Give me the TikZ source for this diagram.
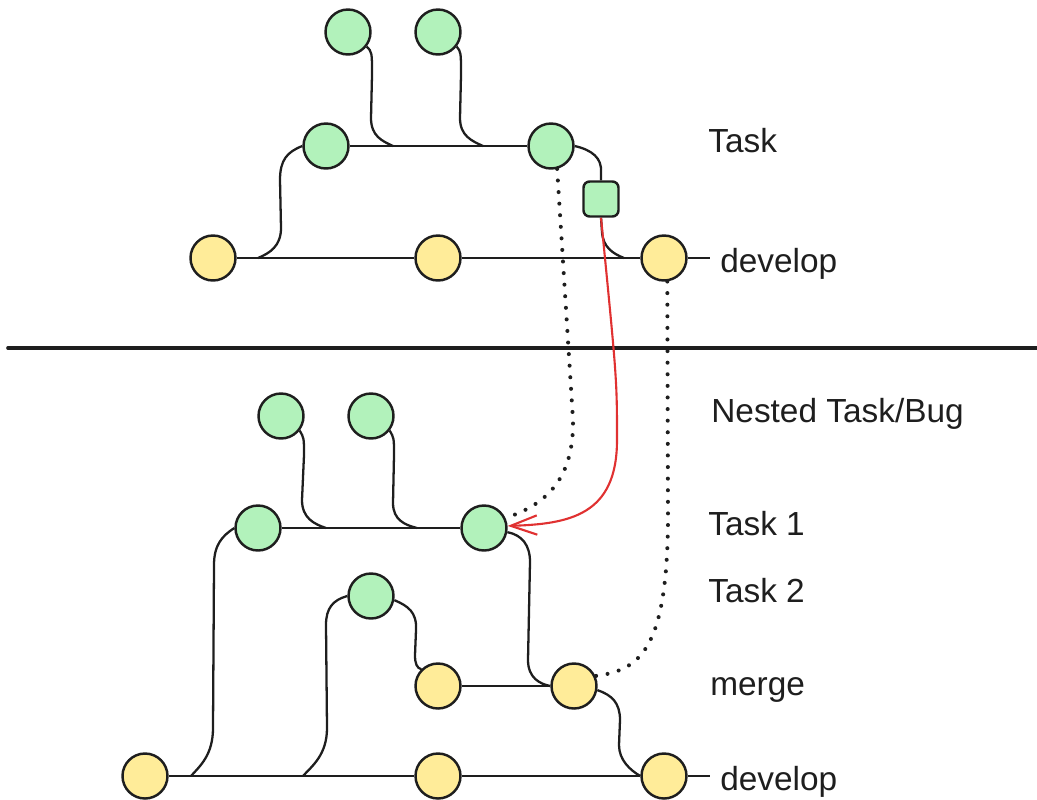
\documentclass[tikz,border=0pt]{standalone}
\usepackage{fontspec}
\setmainfont{Liberation Sans}
\usetikzlibrary{arrows.meta,positioning}

\definecolor{taskgreen}{HTML}{B2F2BB}
\definecolor{devyellow}{HTML}{FFEC99}
\definecolor{ink}{HTML}{1E1E1E}
\definecolor{pickred}{HTML}{E03131}

\begin{document}
\begin{tikzpicture}[
        x=0.02cm, y=-0.02cm,
        commit/.style={circle, draw=ink, line width=1.4pt, minimum size=0.9cm, inner sep=0pt},
        task/.style={commit, fill=taskgreen},
        dev/.style={commit, fill=devyellow},
        squash/.style={rectangle, rounded corners=3.5pt, draw=ink, line width=1.4pt, fill=taskgreen, minimum size=0.7cm, inner sep=0pt},
        link/.style={draw=ink, line width=1.3pt},
        trace/.style={draw=ink, line width=2.3pt, line cap=round, dash pattern=on 0pt off 6.6pt},
        pick/.style={draw=pickred, line width=1.2pt, line join=round, -{Straight Barb[length=15pt,width=11pt]}},
        branchlabel/.style={anchor=base west, inner sep=0pt, text=ink, font=\fontsize{19}{22}\selectfont}
    ]
    \useasboundingbox (0,0) rectangle (1037,799);

    % Task branch (top)
    \node[task] (t1) at (348,32) {};
    \node[task] (t2) at (438,32) {};
    \node[task] (tA) at (326,146) {};
    \node[task] (tB) at (551,146) {};
    \node[squash] (sq) at (601,199) {};
    \node[dev] (d1) at (213,258) {};
    \node[dev] (d2) at (438,258) {};
    \node[dev] (d3) at (664,258) {};
    \coordinate (dEnd) at (710,258);

    \node[branchlabel] (taskLbl) at (708,152) {Task};
    \node[branchlabel, right=0.2cm of dEnd, yshift=-0.12cm] (devTop) {develop};

    % Connections (top)
    \coordinate (j1) at (393,146);
    \coordinate (j2) at (483,146);
    \coordinate (j3) at (258,258);
    \coordinate (j4) at (624,258);
    \draw[link] (tA.east) -- (tB.west);
    \draw[link] (t1.-38) .. controls (372,52) .. (372,75) -- (371,118) .. controls (371,136) and (382,141) .. (j1);
    \draw[link] (t2.-38) .. controls (461,52) .. (461,75) -- (460,118) .. controls (460,136) and (472,141) .. (j2);
    \draw[link] (tA.west) .. controls (287,152) and (280,160) .. (280,180) -- (281,228) .. controls (281,246) and (270,253) .. (j3);
    \draw[link] (tB.east) .. controls (592,150) and (602,158) .. (601,172) -- (sq.north);
    \draw[link] (sq.south) -- (602,232) .. controls (603,248) and (614,254) .. (j4);
    \draw[link] (d1.east) -- (d2.west);
    \draw[link] (d2.east) -- (d3.west);
    \draw[link] (d3.east) -- (dEnd);

    % Divider
    \coordinate (cutL) at (8,348);
    \coordinate (cutR) at (1037,348);
    \draw[ink, line width=2.1pt, line cap=round] (cutL) -- (cutR);

    % Nested Task/Bug (bottom)
    \node[task] (b1) at (281,416) {};
    \node[task] (b2) at (371,416) {};
    \node[task] (bA) at (258,528) {};
    \node[task] (bB) at (484,528) {};
    \node[task] (bC) at (371,596) {};
    \node[dev] (m1) at (438,686) {};
    \node[dev] (m2) at (574,686) {};
    \node[dev] (e1) at (145,776) {};
    \node[dev] (e2) at (438,776) {};
    \node[dev] (e3) at (664,776) {};
    \coordinate (eEnd) at (710,776);

    \node[branchlabel] (nestLbl) at (711,422) {Nested Task/Bug};
    \node[branchlabel] (task1Lbl) at (708,535) {Task 1};
    \node[branchlabel] (task2Lbl) at (708,602) {Task 2};
    \node[branchlabel] (mergeLbl) at (710,695) {merge};
    \node[branchlabel, right=0.2cm of eEnd, yshift=-0.12cm] (devBot) {develop};

    % Connections (bottom)
    \coordinate (k1) at (326,528);
    \coordinate (k2) at (417,528);
    \coordinate (k3) at (191,776);
    \coordinate (k4) at (303,776);
    \draw[link] (bA.east) -- (bB.west);
    \draw[link] (b1.-38) .. controls (304,438) .. (304,455) -- (302,500) .. controls (302,518) and (314,524) .. (k1);
    \draw[link] (b2.-38) .. controls (394,438) .. (394,455) -- (393,503) .. controls (393,520) and (405,525) .. (k2);
    \draw[link] (bA.west) .. controls (222,536) and (214,545) .. (214,565) -- (213,728) .. controls (213,755) and (200,766) .. (k3);
    \draw[link] (bC.west) .. controls (333,600) and (326,608) .. (326,625) -- (327,728) .. controls (327,755) and (312,766) .. (k4);
    \draw[link] (bC.-10) .. controls (408,606) and (417,612) .. (416,630) -- (415,655) .. controls (415,664) and (417,668) .. (m1.135);
    \draw[link] (bB.-10) .. controls (522,535) and (530,545) .. (530,562) -- (528,660) .. controls (528,678) and (540,684) .. (m2.west);
    \draw[link] (m1.east) -- (m2.west);
    \draw[link] (m2.-10) .. controls (612,695) and (620,703) .. (620,720) -- (619,745) .. controls (619,760) and (630,770) .. (e3.west);
    \draw[link] (e1.east) -- (e2.west);
    \draw[link] (e2.east) -- (e3.west);
    \draw[link] (e3.east) -- (eEnd);

    % Cherry-pick traces
    \draw[trace] (tB.-75) -- (573,420) .. controls (574,480) and (545,505) .. (bB.25);
    \draw[trace] (d3.-82) -- (668,520) .. controls (667,650) and (640,670) .. (m2.25);
    \draw[pick] (sq.south) .. controls (617,380) .. (617,440) .. controls (617,515) and (570,524) .. (bB.5);

\end{tikzpicture}
\end{document}
